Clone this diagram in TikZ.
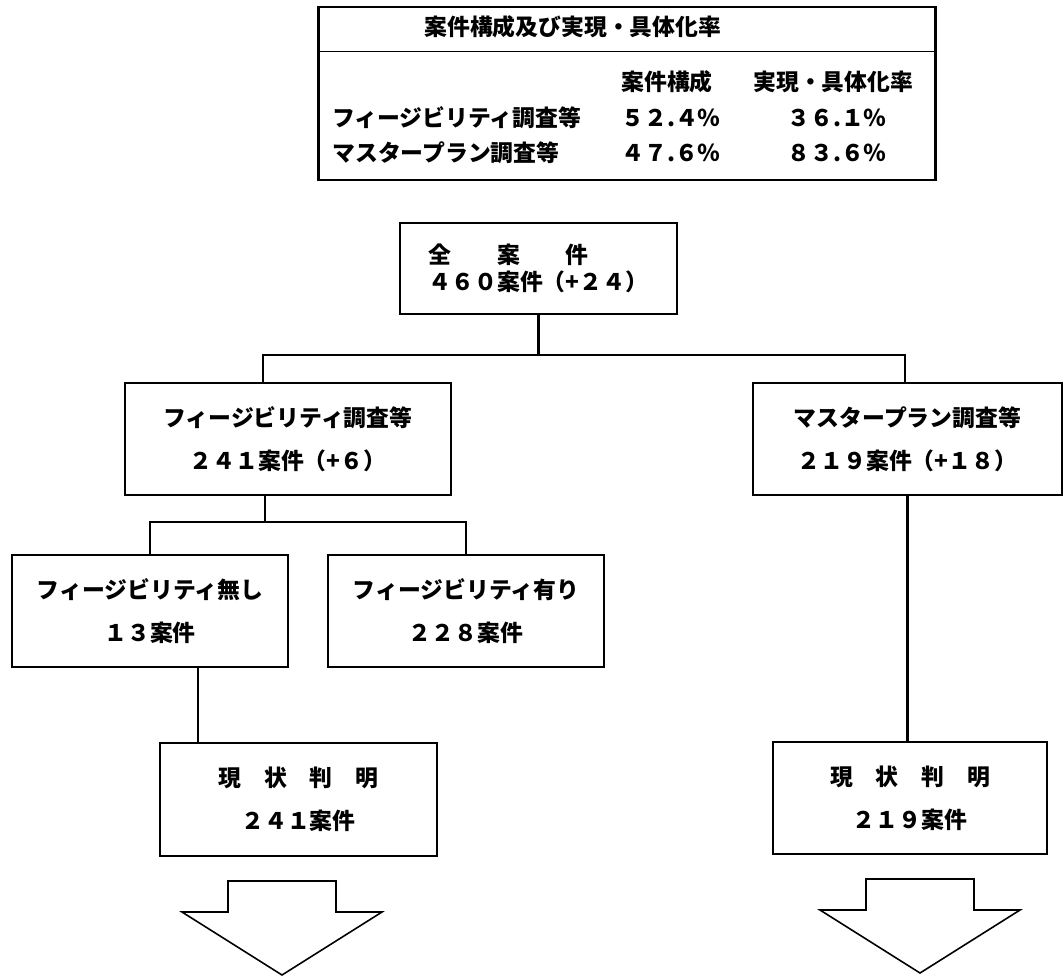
\documentclass[tikz,border=0pt]{standalone}
\usepackage{fontspec}
\setmainfont{Noto Sans CJK JP}

\begin{document}
\begin{tikzpicture}[x=0.02cm,y=-0.02cm,font=\fontsize{13pt}{24.5pt}\selectfont\bfseries,
   box/.style={draw,line width=1.6pt,align=center,inner sep=0pt},
   cell/.style={anchor=west,inner sep=0pt},
   link/.style={line width=1.2pt},
   downarrow/.pic={\draw[line width=0.9pt,line join=miter]
     (-54,0) -- (54,0) -- (54,31) -- (100,31) -- (0,94) -- (-100,31) -- (-54,31) -- cycle;}]
  \useasboundingbox (0,0) rectangle (1064,978);

  % ---- summary table ----
  \node[draw,line width=0.8pt,minimum width=12.32cm,minimum height=3.46cm,inner sep=0pt] (tbl) at (627,93.5) {};
  \draw[line width=1.6pt] (tbl.north west) -- (tbl.south west) (tbl.north east) -- (tbl.south east);
  \draw[line width=0.8pt] ([yshift=-0.9cm]tbl.north west) -- ([yshift=-0.9cm]tbl.north east);
  \node[cell] (ttl) at (424,27) {案件構成及び実現・具体化率};
  \node[cell] (h1) at (621,82) {案件構成};
  \node[cell] (h2) at (753,82) {実現・具体化率};
  \node[cell] (r1) at (332,118) {フィージビリティ調査等};
  \node[cell] (v11) at (621,118) {５２.４％};
  \node[cell] (v12) at (787,118) {３６.１％};
  \node[cell] (r2) at (332,153) {マスタープラン調査等};
  \node[cell] (v21) at (621,153) {４７.６％};
  \node[cell] (v22) at (787,153) {８３.６％};

  % ---- all projects ----
  \node[box,align=left,font=\fontsize{13pt}{15pt}\selectfont\bfseries,minimum width=5.54cm,minimum height=1.82cm]
     (all) at (538.5,268.5) {全　　案　　件\\４６０案件（+２４）};

  % ---- second level ----
  \node[box,minimum width=6.52cm,minimum height=2.24cm] (fs) at (288,439) {フィージビリティ調査等\\２４１案件（+６）};
  \node[box,minimum width=6.18cm,minimum height=2.24cm] (mp) at (907.5,439) {マスタープラン調査等\\２１９案件（+１８）};

  % ---- third level ----
  \node[box,minimum width=5.52cm,minimum height=2.24cm] (fn) at (150,611) {フィージビリティ無し\\１３案件};
  \node[box,minimum width=5.52cm,minimum height=2.24cm] (fy) at (466,611) {フィージビリティ有り\\２２８案件};

  % ---- status known ----
  \node[box,minimum width=5.54cm,minimum height=2.26cm] (g1) at (298.5,799.5) {現　状　判　明\\２４１案件};
  \node[box,minimum width=5.48cm,minimum height=2.24cm] (g2) at (910,798) {現　状　判　明\\２１９案件};

  % ---- connectors ----
  \coordinate (k1) at (263,355);
  \coordinate (k2) at (905,355);
  \coordinate (k3) at (265,522);
  \coordinate (k4) at (198,700);
  \draw[link] (all) -- (all |- k1);
  \draw[link] (k1 |- fs.north) -- (k1) -- (k2) -- (k2 |- mp.north);
  \draw[link] (k3 |- fs.south) -- (k3);
  \draw[link] (fn.north) |- (k3) -| (fy.north);
  \draw[link] (k4 |- fn.south) -- (k4 |- g1.north);
  \draw[link] (mp) -- (mp |- g2.north);

  % ---- block arrows ----
  \pic at (282,881) {downarrow};
  \pic at (920,879) {downarrow};
\end{tikzpicture}
\end{document}
